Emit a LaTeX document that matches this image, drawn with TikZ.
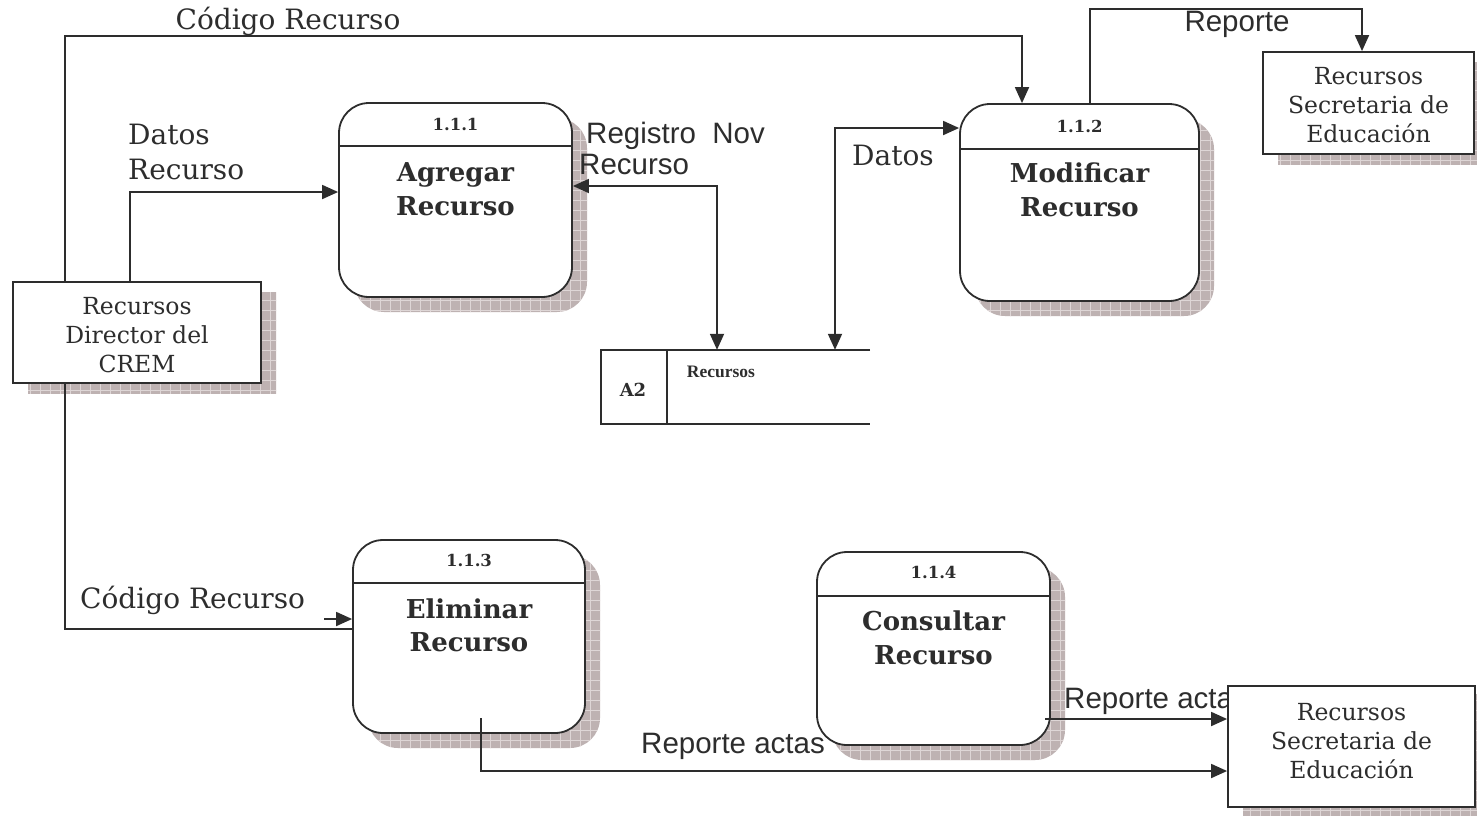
\documentclass[tikz,border=0pt]{standalone}
\usepackage{fontspec}
\setmainfont{DejaVu Serif}
\newfontfamily\sansf{Liberation Sans}
\newfontfamily\timesf{Liberation Serif}
\usetikzlibrary{arrows.meta,calc}
\definecolor{ink}{RGB}{45,45,45}
\definecolor{shc}{RGB}{190,178,178}
\definecolor{shg}{RGB}{222,214,214}
\newcommand\dropsh[5]{%
  \begin{scope}
    \clip[rounded corners=#5] (#1,#2) rectangle (#3,#4);
    \fill[shc] (#1-2,#2-2) rectangle (#3+2,#4+2);
    \draw[shg, line width=0.8pt, step=10pt] (#1-2,#2-2) grid (#3+2,#4+2);
  \end{scope}}
\begin{document}
\begin{tikzpicture}[x=1pt,y=-1pt,
  lw/.style={draw=ink, line width=1.8pt},
  proc/.style={lw, fill=white, rounded corners=30pt, inner sep=0pt},
  ext/.style={lw, fill=white, inner sep=0pt},
  flow/.style={lw, -{Triangle[length=16pt,width=14pt]}},
  flowtwo/.style={lw, {Triangle[length=16pt,width=14pt]}-{Triangle[length=16pt,width=14pt]}},
  lbl/.style={font=\fontsize{28}{35}\selectfont, text=ink, inner sep=0pt, align=left},
  slbl/.style={font=\sansf\fontsize{29.5}{33}\selectfont, text=ink, inner sep=0pt, align=left},
  num/.style={font=\bfseries\fontsize{16.5}{18}\selectfont, text=ink, inner sep=0pt},
  ttl/.style={font=\bfseries\fontsize{26}{33.5}\selectfont, text=ink, inner sep=0pt, align=center},
  etxt/.style={font=\fontsize{23.5}{29}\selectfont, text=ink, inner sep=0pt, align=center}]
\useasboundingbox (0,0) rectangle (1477,815);

% shadows
\dropsh{354}{118}{587}{312}{30pt}
\dropsh{975}{119}{1214}{316}{30pt}
\dropsh{368}{555}{600}{748}{30pt}
\dropsh{832}{567}{1065}{760}{30pt}
\dropsh{28}{292}{276}{393}{0pt}
\dropsh{1278}{62}{1489}{164}{0pt}
\dropsh{1243}{694}{1490}{815}{0pt}

% label partly hidden by the box drawn later
\node[slbl, anchor=west] (l8) at (1064,701) {Reporte actas};

% processes
\node[proc, minimum width=233pt, minimum height=194pt] (ag) at (455.5,200) {};
\draw[lw] ([yshift=-44pt]ag.north west) -- ([yshift=-44pt]ag.north east);
\node[num] (agn) at ($(ag.north)+(0,22)$) {1.1.1};
\node[ttl] (agt) at ($(ag.north)+(0,87)$) {Agregar\\Recurso};

\node[proc, minimum width=239pt, minimum height=197pt] (mo) at (1079.5,202.5) {};
\draw[lw] ([yshift=-46pt]mo.north west) -- ([yshift=-46pt]mo.north east);
\node[num] (mon) at ($(mo.north)+(0,23)$) {1.1.2};
\node[ttl] (mot) at ($(mo.north)+(0,86.5)$) {Modificar\\Recurso};

\node[proc, minimum width=232pt, minimum height=193pt] (el) at (469,636.5) {};
\draw[lw] ([yshift=-44pt]el.north west) -- ([yshift=-44pt]el.north east);
\node[num] (eln) at ($(el.north)+(0,21)$) {1.1.3};
\node[ttl] (elt) at ($(el.north)+(0,86)$) {Eliminar\\Recurso};

\node[proc, minimum width=233pt, minimum height=193pt] (co) at (933.5,648.5) {};
\draw[lw] ([yshift=-45pt]co.north west) -- ([yshift=-45pt]co.north east);
\node[num] (con) at ($(co.north)+(0,21)$) {1.1.4};
\node[ttl] (cot) at ($(co.north)+(0,86.5)$) {Consultar\\Recurso};

% externals
\node[ext, minimum width=248pt, minimum height=101pt] (dir) at (137,332.5) {};
\node[etxt] (dirt) at (137,335) {Recursos\\Director del\\CREM};
\node[ext, minimum width=211pt, minimum height=102pt] (se1) at (1368.5,103) {};
\node[etxt] (se1t) at (1368.5,105) {Recursos\\Secretaria de\\Educación};
\node[ext, minimum width=247pt, minimum height=121pt] (se2) at (1351.5,746.5) {};
\node[etxt] (se2t) at (1351.5,741) {Recursos\\Secretaria de\\Educación};

% data store
\node[inner sep=0pt, minimum width=269pt, minimum height=74pt] (st) at (735.5,387) {};
\draw[lw] (st.north east) -- (st.north west) -- (st.south west) -- (st.south east);
\draw[lw] ([xshift=66pt]st.north west) -- ([xshift=66pt]st.south west);
\node[num, font=\bfseries\fontsize{18}{20}\selectfont] (a2) at (633,390) {A2};
\node[font=\timesf\bfseries\fontsize{17.5}{19}\selectfont, text=ink, inner sep=0pt] (stl) at (721,372) {Recursos};

% connectors
\draw[flow] ([xshift=-72pt]dir.north) -- ++(0,-245) -| ([xshift=-57.5pt]mo.north);
\draw[flow] ([xshift=-7pt]dir.north) |- ([yshift=8pt]ag.west);
\draw[flowtwo] ([yshift=14pt]ag.east) -| ([xshift=-18.5pt]st.north);
\draw[flowtwo] ([yshift=74.5pt]mo.west) -| ([xshift=99.5pt]st.north);
\draw[flow] ([xshift=10.5pt]mo.north) -- ++(0,-94) -| ([xshift=-6.5pt]se1.north);
\draw[lw] ([xshift=-72pt]dir.south) |- ([yshift=7.5pt]el.west);
\draw[flow] ([xshift=-28pt,yshift=17.5pt]el.west) -- ([yshift=17.5pt]el.west);
\draw[flow] ([xshift=12pt,yshift=-81.5pt]el.center) |- ([yshift=-24.5pt]se2.west);
\draw[flow] ([xshift=111.5pt,yshift=-70.5pt]co.center) -- ([yshift=27.5pt]se2.west);

% labels
\node[lbl] (l1) at (288,21) {Código Recurso};
\node[lbl, anchor=west] (l2) at (128,152) {Datos\\Recurso};
\node[slbl, anchor=west] (l3) at (586,148) {Registro\ \ Nov\\[-2pt]\hspace*{-7pt}Recurso};
\node[lbl, anchor=west] (l4) at (852,155) {Datos};
\node[slbl] (l5) at (1237,24) {Reporte};
\node[lbl, anchor=west] (l6) at (80,600) {Código Recurso};
\node[slbl, anchor=west] (l7) at (641,746) {Reporte actas};
\end{tikzpicture}
\end{document}
